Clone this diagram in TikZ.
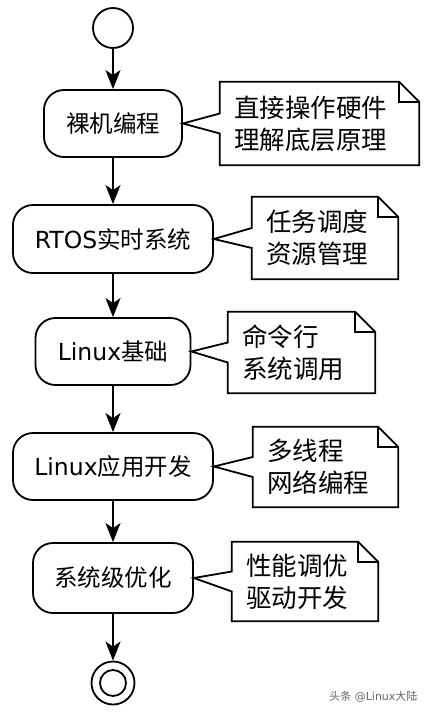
\documentclass[tikz,border=0pt]{standalone}
\usepackage{fontspec}
\setmainfont{DejaVu Sans}
\newfontfamily\cjk{Noto Sans CJK SC}
\usetikzlibrary{arrows.meta, positioning, calc}

\begin{document}
\begin{tikzpicture}[
    x=1pt, y=-1pt,
    stepbox/.style={draw, line width=1.8pt, rounded corners=20pt, fill=white, inner sep=0pt, font=\fontsize{23.5}{28}\selectfont},
    notebox/.style={inner xsep=14pt, inner ysep=0pt, align=left, font=\fontsize{25.5}{32}\selectfont},
    notelink/.style={line width=1.8pt, line join=miter},
    flow/.style={-{Stealth[length=19pt, width=15pt, inset=5pt]}, line width=1.8pt},
    mark_circle/.style={circle, draw, line width=1.8pt, inner sep=0pt}
]
\useasboundingbox[fill=white] (0,0) rectangle (430,714);

% Start and end markers
\node[mark_circle, minimum size=40pt] (start) at (113,28) {};
\node[mark_circle, minimum size=43pt] (stop) at (113,683) {};
\node[mark_circle, minimum size=26pt] (stopin) at (stop.center) {};

% Steps
\node[stepbox, minimum width=138pt, minimum height=67pt] (step1) at (113,123.5) {\cjk 裸机编程};
\node[stepbox, minimum width=200pt, minimum height=68pt] (step2) at (113,239) {RTOS{\cjk 实时系统}};
\node[stepbox, minimum width=155pt, minimum height=67pt] (step3) at (113,351.5) {Linux{\cjk 基础}};
\node[stepbox, minimum width=200pt, minimum height=67pt] (step4) at (113,466.5) {Linux{\cjk 应用开发}};
\node[stepbox, minimum width=160pt, minimum height=70pt] (step5) at (113,578) {\cjk 系统级优化};

% Notes
\node[notebox, text width=171pt, minimum height=83pt] (note1) at (319.5,123.5) {\cjk 直接操作硬件\\理解底层原理};
\node[notebox, text width=118pt, minimum height=82pt] (note2) at (325,238) {\cjk 任务调度\\资源管理};
\node[notebox, text width=119pt, minimum height=81pt] (note3) at (301.5,352.5) {\cjk 命令行\\系统调用};
\node[notebox, text width=117pt, minimum height=80pt] (note4) at (325.5,467) {\cjk 多线程\\网络编程};
\node[notebox, text width=118pt, minimum height=79pt] (note5) at (305,581.5) {\cjk 性能调优\\驱动开发};

% Note outlines with folded corner and link wedge
\foreach \n/\s in {note1/step1, note2/step2, note3/step3, note4/step4, note5/step5} {
    \draw[notelink] ($(\n.west)+(0,-10)$) |- ($(\n.north east)+(-20,0)$) -- ($(\n.north east)+(0,20)$)
        |- (\n.south west) -- ($(\n.west)+(0,10)$) -- (\s.east) -- cycle;
    \draw[notelink] ($(\n.north east)+(-20,0)$) |- ($(\n.north east)+(0,20)$);
}

% Flow arrows
\draw[flow] (start.south) -- (step1.north);
\foreach \i [count=\j from 2] in {1,...,4} {
    \draw[flow] (step\i.south) -- (step\j.north);
}
\draw[flow] (step5.south) -- (stop.north);

% Watermark
\node[text=black!60, font=\fontsize{11}{13}\selectfont, anchor=east] (wmark) at (421,697) {{\cjk 头条} @Linux{\cjk 大陆}};

\end{tikzpicture}
\end{document}
